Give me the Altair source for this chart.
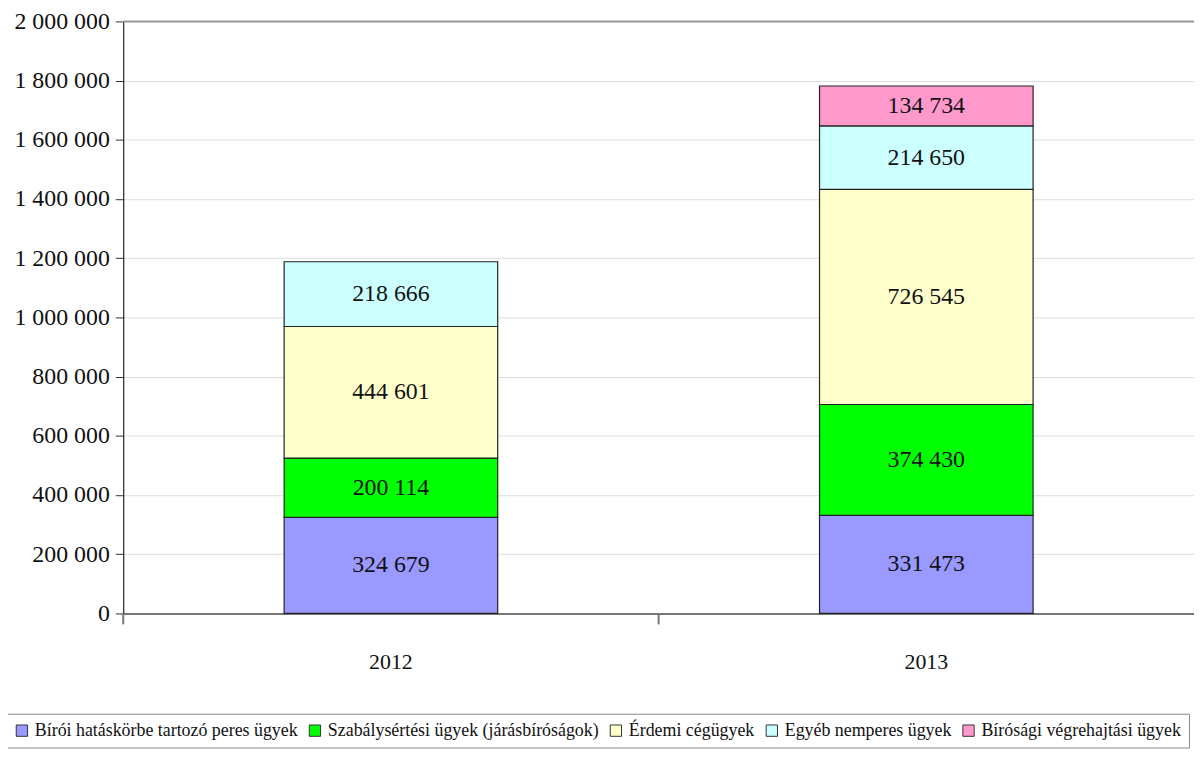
import altair as alt
import pandas as pd

years = ["2012", "2013"]
categories = [
    "Bírói hatáskörbe tartozó peres ügyek",
    "Szabálysértési ügyek (járásbíróságok)",
    "Érdemi cégügyek",
    "Egyéb nemperes ügyek",
    "Bírósági végrehajtási ügyek",
]
colors = ["#9999FF", "#00FF00", "#FFFFCC", "#CCFFFF", "#FF99CC"]
values_2012 = [324679, 200114, 444601, 218666, None]
values_2013 = [331473, 374430, 726545, 214650, 134734]

rows = []
for yr, vals in zip(years, [values_2012, values_2013]):
    for i, (c, v) in enumerate(zip(categories, vals)):
        if v is not None:
            rows.append({"year": yr, "cat": c, "idx": i, "value": v})
df = pd.DataFrame(rows)

FONT = "Liberation Serif"
FMT = "replace(replace(format({v}, ','), ',', ' '), ',', ' ')"

base = alt.Chart(df).transform_stack(
    stack="value", groupby=["year"], sort=[alt.SortField("idx", order="ascending")],
    as_=["v0", "v1"]
).transform_calculate(
    mid="(datum.v0 + datum.v1) / 2",
    lbl=FMT.format(v="datum.value"),
)

xenc = alt.X("year:N", scale=alt.Scale(paddingInner=0, paddingOuter=0),
             axis=alt.Axis(title=None, labelAngle=0, ticks=False, labelFont=FONT,
                           labelFontSize=22, labelColor="#111", labelPadding=38,
                           domainColor="#777", domainWidth=2, grid=False))
yscale = alt.Scale(domain=[0, 2000000])

bars = base.mark_bar(size=215, stroke="#222", strokeWidth=1.2).encode(
    x=xenc,
    y=alt.Y("v0:Q", scale=yscale,
            axis=alt.Axis(title=None, values=list(range(0, 2000001, 200000)),
                          labelExpr=FMT.format(v="datum.value"),
                          labelFont=FONT, labelFontSize=24, labelColor="#111",
                          labelPadding=6, tickSize=8, tickColor="#333",
                          domainColor="#222", domainWidth=1.2,
                          gridColor="#dddddd", gridWidth=1)),
    y2="v1:Q",
    color=alt.Color("cat:N", scale=alt.Scale(domain=categories, range=colors),
                    legend=alt.Legend(title=None, orient="none", legendX=-119, legendY=697,
                                      direction="horizontal", columns=5,
                                      symbolType="square", symbolSize=130,
                                      symbolStrokeColor="#333", symbolStrokeWidth=1,
                                      labelFont=FONT, labelFontSize=18, labelColor="#111",
                                      labelLimit=0, labelOffset=4, columnPadding=8,
                                      padding=8, strokeColor="#888",
                                      fillColor="white")),
)

texts = base.mark_text(font=FONT, fontSize=24, color="#111").encode(
    x=alt.X("year:N"),
    y=alt.Y("mid:Q", scale=yscale),
    text="lbl:N",
)

top_line = alt.Chart(pd.DataFrame({"y": [2000000]})).mark_rule(
    color="#999", strokeWidth=2).encode(y=alt.Y("y:Q", scale=yscale))

xticks = alt.Chart(pd.DataFrame({"year": years})).mark_rule(
    color="#777", strokeWidth=2).encode(
    x=alt.X("year:N", bandPosition=0),
    y=alt.value(596), y2=alt.value(607))

chart = alt.layer(bars, top_line, texts, xticks).properties(
    width=1078, height=596,
    autosize=alt.AutoSizeParams(type="none"),
    padding={"left": 116, "top": 11, "right": 0, "bottom": 137},
).configure_view(stroke=None)

chart.save("out.html", embed_options={"renderer": "svg", "actions": False})
